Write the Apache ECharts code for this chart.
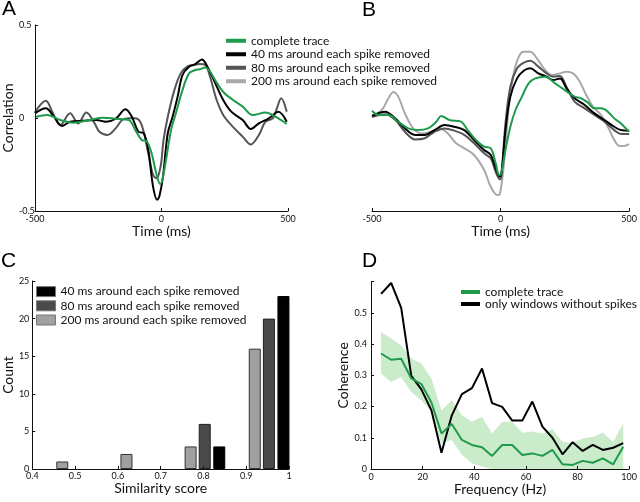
<!DOCTYPE html>
<html><head><meta charset="utf-8">
<script src="https://cdn.jsdelivr.net/npm/echarts@6/dist/echarts.min.js"></script>
<style>html,body{margin:0;padding:0;background:#fff}#c{width:640px;height:502px}</style>
</head><body><div id="c"></div>
<script>
// ---------- Panels A & B: correlation vs time (ms) ----------
const traceNames = ['complete trace', '40 ms around each spike removed', '80 ms around each spike removed', '200 ms around each spike removed'];
const timeTicks = [-500, 0, 500];
const corrTicks = [-0.5, 0, 0.5];

const aComplete = [[-500,0.005],[-451,0.016],[-400,-0.011],[-348,-0.025],[-284,-0.011],[-232,0.002],[-181,-0.004],[-129,-0.011],[-103,-0.065],[-78,-0.118],[-58,-0.125],[-39,-0.19],[-20,-0.3],[-5,-0.355],[4,-0.33],[18,-0.226],[38,-0.065],[57,0.025],[83,0.15],[109,0.24],[134,0.258],[152,0.262],[173,0.272],[192,0.25],[212,0.204],[244,0.14],[283,0.097],[321,0.061],[360,0.016],[411,0.029],[450,0.007],[495,-0.032]];
const a40 = [[-500,0.025],[-457,0.052],[-425,0.007],[-393,-0.043],[-361,-0.02],[-310,-0.015],[-258,-0.011],[-219,-0.02],[-181,-0.004],[-142,0.047],[-117,0.007],[-91,-0.074],[-70,-0.082],[-52,-0.172],[-33,-0.37],[-17,-0.44],[-8,-0.42],[6,-0.315],[25,-0.082],[44,0.007],[64,0.115],[83,0.231],[109,0.276],[134,0.29],[160,0.315],[180,0.28],[207,0.204],[244,0.097],[276,0.034],[321,-0.011],[353,-0.059],[385,-0.029],[424,-0.002],[462,0.034],[495,-0.02]];
const a80 = [[-500,0.03],[-457,0.093],[-430,0.03],[-400,-0.038],[-361,0.025],[-329,-0.029],[-297,0.029],[-264,-0.029],[-245,-0.074],[-213,-0.091],[-181,-0.056],[-155,-0.011],[-129,-0.002],[-103,-0.002],[-78,-0.038],[-52,-0.19],[-33,-0.306],[-19,-0.324],[-8,-0.29],[0,-0.23],[8,-0.12],[25,0.007],[51,0.15],[76,0.24],[102,0.276],[128,0.285],[150,0.29],[173,0.285],[192,0.222],[218,0.097],[244,0.016],[276,-0.038],[321,-0.1],[353,-0.142],[385,-0.091],[411,-0.02],[440,-0.002],[456,0.052],[473,0.106],[495,0.034]];

const bComplete = [[-500,0.039],[-474,0.016],[-436,0.016],[-398,-0.02],[-359,-0.056],[-321,-0.065],[-282,-0.056],[-250,-0.02],[-231,0.011],[-199,-0.011],[-154,-0.02],[-128,-0.065],[-96,-0.118],[-64,-0.154],[-38,-0.163],[-19,-0.244],[-6,-0.306],[2,-0.3],[19,-0.172],[38,-0.047],[58,0.043],[83,0.115],[109,0.186],[135,0.213],[173,0.222],[212,0.186],[250,0.15],[288,0.115],[314,0.106],[340,0.082],[365,0.052],[391,0.052],[417,0.034],[442,-0.002],[468,-0.029],[500,-0.074]];
const b40 = [[-500,0.011],[-449,0.034],[-410,-0.002],[-372,-0.056],[-333,-0.091],[-295,-0.091],[-257,-0.065],[-218,-0.038],[-180,-0.047],[-141,-0.065],[-103,-0.118],[-64,-0.172],[-38,-0.199],[-19,-0.27],[-3,-0.315],[4,-0.29],[19,-0.065],[38,0.115],[64,0.213],[90,0.254],[115,0.267],[147,0.24],[179,0.222],[205,0.204],[231,0.213],[256,0.16],[288,0.106],[327,0.07],[365,0.025],[404,-0.011],[442,-0.047],[468,-0.065],[500,-0.068]];
const b80 = [[-500,0.005],[-449,0.02],[-410,-0.01],[-372,-0.074],[-333,-0.115],[-295,-0.109],[-257,-0.074],[-218,-0.056],[-180,-0.068],[-141,-0.091],[-103,-0.136],[-64,-0.19],[-38,-0.217],[-19,-0.29],[-3,-0.33],[4,-0.3],[19,-0.029],[38,0.168],[64,0.267],[90,0.297],[115,0.308],[147,0.276],[179,0.24],[205,0.222],[231,0.226],[256,0.168],[288,0.088],[327,0.052],[365,0.016],[404,-0.02],[442,-0.065],[468,-0.086],[500,-0.086]];
const b200 = [[-500,0.01],[-462,0.043],[-436,0.106],[-417,0.14],[-398,0.115],[-372,0.025],[-340,-0.056],[-308,-0.083],[-269,-0.074],[-237,-0.056],[-205,-0.083],[-173,-0.136],[-141,-0.163],[-103,-0.199],[-64,-0.28],[-38,-0.37],[-13,-0.414],[-3,-0.41],[13,-0.244],[32,0.061],[51,0.24],[71,0.33],[90,0.356],[115,0.356],[141,0.321],[173,0.258],[199,0.231],[231,0.24],[256,0.249],[282,0.24],[308,0.195],[333,0.124],[359,0.061],[391,0.016],[417,-0.047],[442,-0.118],[462,-0.15],[480,-0.15],[500,-0.14]];

// ---------- Panel C: histogram of similarity score ----------
const histNames = ['40 ms around each spike removed', '80 ms around each spike removed', '200 ms around each spike removed'];
const score40 = [0.837, 0.987];
const count40 = [3, 23];
const score80 = [0.803, 0.953];
const count80 = [6, 20];
const score200 = [0.47, 0.62, 0.77, 0.92];
const count200 = [1, 2, 3, 16];

// ---------- Panel D: coherence vs frequency ----------
const cohNames = ['complete trace', 'only windows without spikes'];
const freqHz = [3.9, 7.8, 11.7, 15.6, 19.5, 23.4, 27.3, 31.3, 35.2, 39.1, 43.0, 46.9, 50.8, 54.7, 58.6, 62.5, 66.4, 70.3, 74.2, 78.1, 82.0, 85.9, 89.8, 93.8, 97.7];
const cohComplete = [0.37, 0.35, 0.353, 0.29, 0.272, 0.213, 0.114, 0.144, 0.093, 0.077, 0.07, 0.042, 0.077, 0.077, 0.045, 0.05, 0.042, 0.061, 0.015, 0.013, 0.026, 0.02, 0.034, 0.015, 0.071];
const cohNoSpikes = [0.561, 0.596, 0.516, 0.298, 0.255, 0.188, 0.052, 0.172, 0.24, 0.259, 0.322, 0.211, 0.199, 0.155, 0.155, 0.216, 0.136, 0.1, 0.047, 0.086, 0.058, 0.077, 0.061, 0.068, 0.083];
const cohUpper = [0.439, 0.418, 0.396, 0.354, 0.338, 0.29, 0.188, 0.22, 0.173, 0.151, 0.167, 0.114, 0.151, 0.151, 0.116, 0.12, 0.114, 0.127, 0.087, 0.084, 0.098, 0.103, 0.116, 0.087, 0.146];
const cohLower = [0.306, 0.279, 0.295, 0.247, 0.22, 0.183, 0.082, 0.093, 0.045, 0.018, 0.007, 0, 0, 0, 0, 0, 0, 0, 0, 0, 0, 0, 0, 0, 0];

// ---------- styling ----------
const GREEN = '#1f9a4a', BAND = '#cbeccb', BLACK = '#000000', DARK = '#555555', LIGHT = '#a8a8a8';
const HDARK = '#4a4a4a', HLIGHT = '#a0a0a0';
const FONT = 'Lato';
const lineColors = [GREEN, BLACK, DARK, LIGHT];

function axisBase(extra) {
  return Object.assign({
    z: 5,
    axisLine: { show: true, onZero: false, lineStyle: { color: '#111', width: 1 } },
    axisTick: { show: true, inside: true, length: 3, lineStyle: { color: '#111' } },
    splitLine: { show: false },
    axisLabel: { fontFamily: FONT, fontSize: 9, color: '#111', margin: 4 },
    nameTextStyle: { fontFamily: FONT, fontSize: 14, color: '#111' }
  }, extra);
}
function fmtNum(v) { return String(Math.round(v * 100) / 100); }

function lineSeries(name, data, idx, color) {
  return { type: 'line', name: name, data: data, xAxisIndex: idx, yAxisIndex: idx,
    showSymbol: false, smooth: 0.35, lineStyle: { color: color, width: 2 }, itemStyle: { color: color } };
}

const chart = echarts.init(document.getElementById('c'), null, { renderer: 'canvas' });

chart.setOption({
  animation: false,
  backgroundColor: '#ffffff',
  textStyle: { fontFamily: FONT },
  grid: [
    { left: 29, top: 25, width: 259, height: 186 },
    { left: 372, top: 25, width: 260, height: 186 },
    { left: 28, top: 281, width: 261, height: 188 },
    { left: 371, top: 281.7, width: 258.3, height: 187.3 }
  ],
  xAxis: [
    axisBase({ type: 'value', gridIndex: 0, min: timeTicks[0], max: timeTicks[2], interval: 500,
      name: 'Time (ms)', nameLocation: 'middle', nameGap: 11 }),
    axisBase({ type: 'value', gridIndex: 1, min: timeTicks[0], max: timeTicks[2], interval: 500,
      name: 'Time (ms)', nameLocation: 'middle', nameGap: 11 }),
    axisBase({ type: 'value', gridIndex: 2, min: 0.4, max: 1, interval: 0.1,
      name: 'Similarity score', nameLocation: 'middle', nameGap: 8,
      axisLabel: { fontFamily: FONT, fontSize: 9, color: '#111', margin: 3, formatter: fmtNum } }),
    axisBase({ type: 'value', gridIndex: 3, min: 0, max: 100, interval: 20,
      name: 'Frequency (Hz)', nameLocation: 'middle', nameGap: 9 })
  ],
  yAxis: [
    axisBase({ type: 'value', gridIndex: 0, min: corrTicks[0], max: corrTicks[2], interval: 0.5,
      name: 'Correlation', nameLocation: 'middle', nameGap: 13,
      axisLabel: { fontFamily: FONT, fontSize: 9, color: '#111', margin: 16, align: 'left', formatter: fmtNum } }),
    { type: 'value', gridIndex: 1, min: corrTicks[0], max: corrTicks[2], show: false, splitLine: { show: false } },
    axisBase({ type: 'value', gridIndex: 2, min: 0, max: 25, interval: 5,
      name: 'Count', nameLocation: 'middle', nameGap: 14,
      axisLabel: { fontFamily: FONT, fontSize: 9, color: '#111', margin: 3 } }),
    axisBase({ type: 'value', gridIndex: 3, min: 0, max: 0.6, interval: 0.1,
      name: 'Coherence', nameLocation: 'middle', nameGap: 21,
      axisLabel: { fontFamily: FONT, fontSize: 9, color: '#111', margin: 4,
        formatter: v => (v > 0.55 ? '' : fmtNum(v)) } })
  ],
  legend: [
    { orient: 'vertical', left: 226, top: 34, padding: 0, itemGap: 0, itemWidth: 20, itemHeight: 4,
      textStyle: { fontFamily: FONT, fontSize: 12, color: '#111', lineHeight: 13.5 },
      data: traceNames.map((n, i) => ({ name: n, icon: 'rect', itemStyle: { color: lineColors[i], borderWidth: 0 } })) },
    { orient: 'vertical', left: 36, top: 284.5, padding: 0, itemGap: 0, itemWidth: 19, itemHeight: 10,
      textStyle: { fontFamily: FONT, fontSize: 12, color: '#111', lineHeight: 14.2 },
      data: histNames.map((n, i) => ({ name: n, icon: 'rect',
        itemStyle: { color: [BLACK, HDARK, HLIGHT][i], borderColor: '#777', borderWidth: 1 } })) },
    { orient: 'vertical', left: 461, top: 286, padding: 0, itemGap: 0, itemWidth: 19, itemHeight: 4,
      textStyle: { fontFamily: FONT, fontSize: 12, color: '#111', lineHeight: 11.7 },
      data: cohNames.map((n, i) => ({ name: n, icon: 'rect', itemStyle: { color: [GREEN, BLACK][i], borderWidth: 0 } })) }
  ],
  graphic: [
    { type: 'text', left: 2, top: -1, style: { text: 'A', fontFamily: 'Liberation Sans', fontSize: 21, fill: '#000' } },
    { type: 'text', left: 362, top: 0, style: { text: 'B', fontFamily: 'Liberation Sans', fontSize: 21, fill: '#000' } },
    { type: 'text', left: 1, top: 251, style: { text: 'C', fontFamily: 'Liberation Sans', fontSize: 21, fill: '#000' } },
    { type: 'text', left: 362, top: 251, style: { text: 'D', fontFamily: 'Liberation Sans', fontSize: 21, fill: '#000' } }
  ],
  series: [
    // Panel A
    lineSeries(traceNames[2], a80, 0, DARK),
    lineSeries(traceNames[1], a40, 0, BLACK),
    lineSeries(traceNames[0], aComplete, 0, GREEN),
    // Panel B
    lineSeries(traceNames[3], b200, 1, LIGHT),
    lineSeries(traceNames[2], b80, 1, DARK),
    lineSeries(traceNames[1], b40, 1, BLACK),
    lineSeries(traceNames[0], bComplete, 1, GREEN),
    // Panel C
    { type: 'bar', name: histNames[2], xAxisIndex: 2, yAxisIndex: 2, barWidth: 12, barGap: '-100%',
      data: score200.map((s, i) => [s, count200[i]]), itemStyle: { color: HLIGHT, borderColor: '#333', borderWidth: 1 } },
    { type: 'bar', name: histNames[1], xAxisIndex: 2, yAxisIndex: 2, barWidth: 12, barGap: '-100%',
      data: score80.map((s, i) => [s, count80[i]]), itemStyle: { color: HDARK, borderColor: '#222', borderWidth: 1 } },
    { type: 'bar', name: histNames[0], xAxisIndex: 2, yAxisIndex: 2, barWidth: 12, barGap: '-100%',
      data: score40.map((s, i) => [s, count40[i]]), itemStyle: { color: BLACK, borderColor: '#000', borderWidth: 1 } },
    // Panel D: confidence band drawn as upper area, then lower area masked in white
    { type: 'line', name: 'band upper', xAxisIndex: 3, yAxisIndex: 3, showSymbol: false, z: 1,
      data: freqHz.map((f, i) => [f, cohUpper[i]]), lineStyle: { width: 0, opacity: 0 },
      areaStyle: { color: BAND, opacity: 1, origin: 'start' }, silent: true },
    { type: 'line', name: 'band lower', xAxisIndex: 3, yAxisIndex: 3, showSymbol: false, z: 1,
      data: freqHz.map((f, i) => [f, cohLower[i]]), lineStyle: { width: 0, opacity: 0 },
      areaStyle: { color: '#ffffff', opacity: 1, origin: 'start' }, silent: true },
    { type: 'line', name: cohNames[1], xAxisIndex: 3, yAxisIndex: 3, showSymbol: false, z: 3,
      data: freqHz.map((f, i) => [f, cohNoSpikes[i]]), lineStyle: { color: BLACK, width: 2 }, itemStyle: { color: BLACK } },
    { type: 'line', name: cohNames[0], xAxisIndex: 3, yAxisIndex: 3, showSymbol: false, z: 3,
      data: freqHz.map((f, i) => [f, cohComplete[i]]), lineStyle: { color: GREEN, width: 2 }, itemStyle: { color: GREEN } }
  ]
});
</script>
</body></html>
